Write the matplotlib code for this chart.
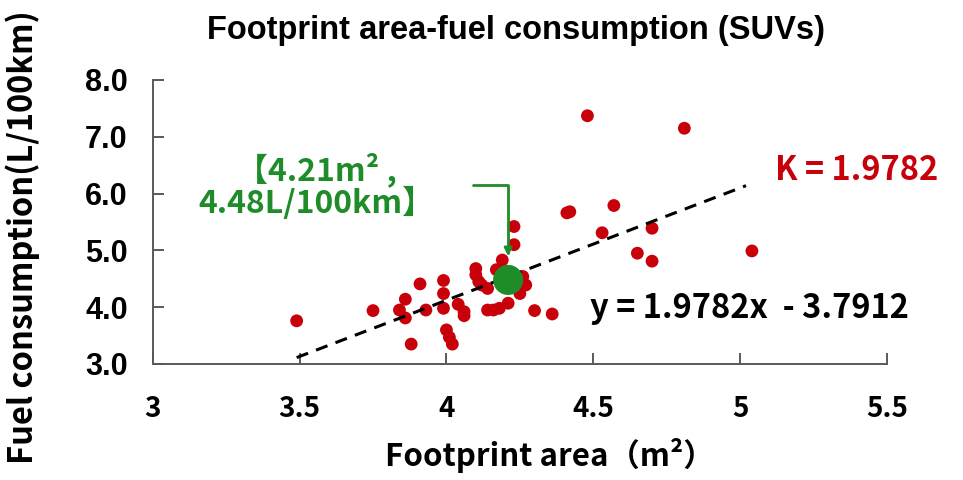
import matplotlib
matplotlib.use("Agg")
import matplotlib.pyplot as plt
import numpy as np

# Footprint area (m2) and fuel consumption (L/100km) of the SUV sample
area = [3.49, 3.75, 3.86, 3.84, 3.86, 3.88, 3.91, 3.93, 3.99, 3.99, 3.99, 4.00,
        4.01, 4.02, 4.04, 4.06, 4.06, 4.10, 4.10, 4.11, 4.12, 4.14, 4.14, 4.16,
        4.18, 4.21, 4.17, 4.19, 4.23, 4.23, 4.26, 4.27, 4.25, 4.30, 4.36, 4.41,
        4.42, 4.48, 4.81, 4.57, 4.53, 4.70, 4.65, 4.70, 5.04]
fuel = [3.76, 3.94, 4.14, 3.95, 3.81, 3.35, 4.41, 3.95, 4.47, 4.24, 3.98, 3.60,
        3.47, 3.35, 4.05, 3.92, 3.85, 4.68, 4.57, 4.45, 4.39, 4.33, 3.95, 3.95,
        3.98, 4.07, 4.66, 4.83, 5.42, 5.10, 4.54, 4.39, 4.24, 3.94, 3.88, 5.66,
        5.68, 7.37, 7.15, 5.79, 5.31, 5.39, 4.95, 4.81, 4.99]

# linear fit reported on the chart
slope = 1.9782
intercept = -3.7912
fit_range = [3.49, 5.02]

# highlighted vehicle
hl_area = 4.21
hl_fuel = 4.48

x_ticks = [3, 3.5, 4, 4.5, 5, 5.5]
y_ticks = [3.0, 4.0, 5.0, 6.0, 7.0, 8.0]

RED = "#C8000A"
GREEN = "#1E8C28"
AXIS = "#595959"
SANS = ["Liberation Sans", "DejaVu Sans"]
KR = ["Noto Sans CJK KR", "DejaVu Sans"]

fig = plt.figure(figsize=(9.63, 4.8), dpi=100)
ax = fig.add_axes([0.1586, 0.2417, 0.7625, 0.5917])

ax.scatter(area, fuel, s=85, color=RED, edgecolors="none", zorder=3)

fx = np.array(fit_range)
ax.plot(fx, slope * fx + intercept, color="black", lw=2.2,
        dashes=(4, 2.8), zorder=4)

ax.scatter([hl_area], [hl_fuel], s=470, color=GREEN, edgecolors="none", zorder=5)
ax.annotate("", xy=(hl_area, hl_fuel), xytext=(4.092, 6.15),
            arrowprops=dict(arrowstyle="-|>,head_length=0.45,head_width=0.22",
                            color=GREEN, lw=2.0, shrinkA=0, shrinkB=17,
                            connectionstyle="angle,angleA=0,angleB=90,rad=0"),
            zorder=6)

ax.set_xlim(3, 5.5)
ax.set_ylim(3, 8)
ax.set_xticks(x_ticks)
ax.set_xticklabels([f"{v:g}" for v in x_ticks], family=KR, fontweight="bold",
                   fontsize=20)
ax.set_yticks(y_ticks)
ax.set_yticklabels([f"{v:.1f}" for v in y_ticks], family=SANS,
                   fontweight="bold", fontsize=22)
ax.tick_params(axis="both", direction="in", length=8, width=1.4, color=AXIS)
ax.tick_params(axis="x", pad=22)
ax.tick_params(axis="y", pad=18)

for side in ["top", "right"]:
    ax.spines[side].set_visible(False)
for side in ["left", "bottom"]:
    ax.spines[side].set_color(AXIS)
    ax.spines[side].set_linewidth(1.4)

fig.text(0.536, 0.937, "Footprint area-fuel consumption (SUVs)", family=SANS,
         fontweight="bold", fontsize=23.5, ha="center", va="center")
fig.text(0.571, 0.052, "Footprint area（m²）", family=KR, fontweight="bold",
         fontsize=22.5, ha="center", va="center")
fig.text(0.024, 0.506, "Fuel consumption(L/100km)", family=KR, fontweight="bold",
         fontsize=23.5, ha="center", va="center", rotation=90)

ax.text(3.556, 6.13, "【4.21m² ,\n4.48L/100km】", family=KR, fontweight="bold",
        fontsize=23, color=GREEN, ha="center", va="center",
        multialignment="center", linespacing=1.0)
ax.text(5.12, 6.41, "K = 1.9782", family=KR, fontweight="bold", fontsize=23.5,
        color=RED, ha="left", va="center")
ax.text(4.49, 3.97, "y = 1.9782x  - 3.7912", family=KR, fontweight="bold",
        fontsize=23.5, color="black", ha="left", va="center")

fig.savefig("out.png", dpi=100, facecolor="white")
